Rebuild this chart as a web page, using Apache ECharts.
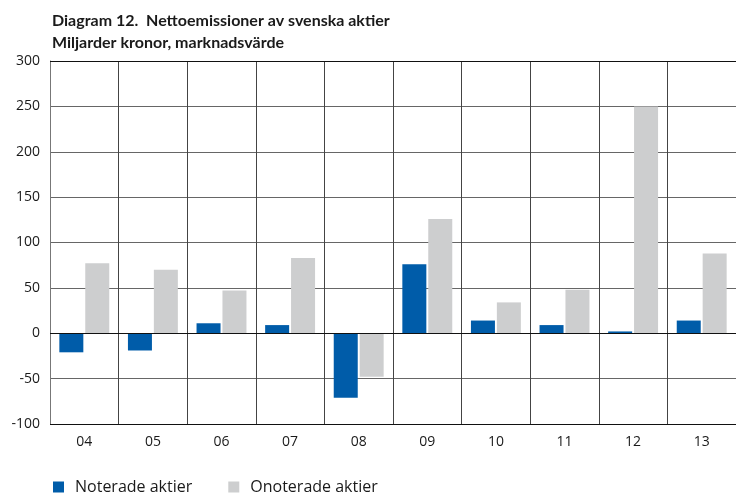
<!DOCTYPE html>
<html>
<head>
<meta charset="utf-8">
<script src="https://cdn.jsdelivr.net/npm/echarts@6/dist/echarts.min.js"></script>
<style>
	html, body { margin: 0; padding: 0; background: #fff; }
	#chart { width: 736px; height: 495px; }
</style>
</head>
<body>
<div id="chart"></div>
<script>
// years (last two digits)
const years = ['04', '05', '06', '07', '08', '09', '10', '11', '12', '13'];
// miljarder kronor
const noterade = [-21, -19, 11, 9, -71, 76, 14, 9, 2, 14];
const onoterade = [77, 70, 47, 83, -48, 126, 34, 48, 250, 88];

const FONT = '"Open Sans", "Noto Sans", sans-serif';
const TEXT = '#1a1a1a';

let myChart = echarts.init(document.getElementById('chart'));

let option = {
	animation: false,
	textStyle: { fontFamily: FONT },
	title: {
		text: 'Diagram 12.  Nettoemissioner av svenska aktier\nMiljarder kronor, marknadsvärde',
		left: 47,
		top: 5,
		textStyle: {
			fontFamily: 'Lato, "Open Sans", sans-serif',
			fontSize: 16,
			fontWeight: 'bold',
			color: TEXT,
			lineHeight: 22
		}
	},
	legend: {
		left: 48,
		bottom: -5,
		itemWidth: 11,
		itemHeight: 11,
		itemGap: 36,
		icon: 'rect',
		textStyle: { fontFamily: FONT, fontSize: 16, color: TEXT, padding: [0, 0, 0, 6] },
		data: ['Noterade aktier', 'Onoterade aktier']
	},
	grid: {
		left: 50,
		right: -2,
		top: 61,
		bottom: 71
	},
	xAxis: {
		type: 'category',
		data: years,
		boundaryGap: true,
		axisTick: { show: false },
		axisLine: { show: false },
		axisLabel: { fontFamily: FONT, fontSize: 14, color: TEXT, margin: 11 },
		splitLine: { show: true, lineStyle: { color: '#444', width: 1 } }
	},
	yAxis: {
		type: 'value',
		min: -100,
		max: 300,
		interval: 50,
		axisLine: { show: true, onZero: false, lineStyle: { color: '#777', width: 1 } },
		axisTick: { show: false },
		axisLabel: { fontFamily: FONT, fontSize: 14, color: TEXT, margin: 10 },
		splitLine: { show: true, lineStyle: { color: '#666', width: 1 } }
	},
	series: [
		{
			name: 'Noterade aktier',
			type: 'bar',
			data: noterade,
			barWidth: 24,
			barGap: '8%',
			itemStyle: { color: '#005ca9' },
			z: 3
		},
		{
			name: 'Onoterade aktier',
			type: 'bar',
			data: onoterade,
			barWidth: 24,
			itemStyle: { color: '#cdcecf' },
			z: 3,
			markLine: {
				silent: true,
				symbol: ['none', 'none'],
				label: { show: false },
				lineStyle: { color: '#111', width: 1.2, type: 'solid' },
				data: [{ yAxis: 0 }, { yAxis: -100 }, { yAxis: 300 }]
			}
		}
	]
};

option && myChart.setOption(option);
</script>
</body>
</html>
